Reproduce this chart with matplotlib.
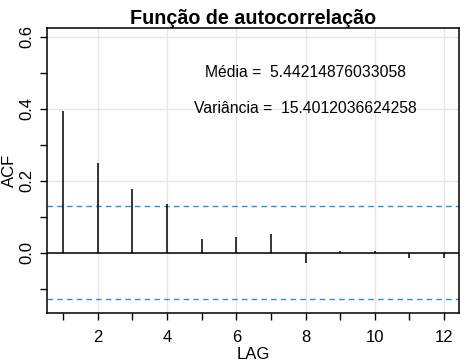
import matplotlib
matplotlib.use("Agg")
import matplotlib.pyplot as plt
import numpy as np

plt.rcParams['font.family'] = ['Liberation Sans', 'DejaVu Sans']

lags = [1, 2, 3, 4, 5, 6, 7, 8, 9, 10, 11, 12]
acf = [0.394, 0.25, 0.178, 0.136, 0.039, 0.044, 0.053, -0.027, 0.005, 0.005, -0.013, -0.013]
conf = 0.129
media = "5.44214876033058"
variancia = "15.4012036624258"
title = "Função de autocorrelação"

fig = plt.figure(figsize=(4.69, 3.62), dpi=100)
ax = fig.add_axes([47/469, 1-313/362, (459-47)/469, (313-28)/362])

ax.set_xlim(0.537, 12.43)
ax.set_ylim(-0.167, 0.625)

for x in [2, 4, 6, 8, 10, 12]:
    ax.axvline(x, color='#e6e6e6', lw=1, zorder=0)
for y in [0.0, 0.2, 0.4, 0.6]:
    ax.axhline(y, color='#e6e6e6', lw=1, zorder=0)

ax.vlines(lags, 0, acf, color='black', lw=1.1, zorder=3)
ax.axhline(0, color='black', lw=1.1, zorder=3)
ax.axhline(conf, color='#2a8fd8', lw=1, ls=(0, (4, 3)), zorder=2)
ax.axhline(-conf, color='#2a8fd8', lw=1, ls=(0, (4, 3)), zorder=2)

ax.text(8, 0.5, "Média =  " + media, ha='center', va='center', fontsize=11.3)
ax.text(8, 0.4, "Variância =  " + variancia, ha='center', va='center', fontsize=11.3)

ax.set_xticks(lags)
ax.set_xticklabels([str(l) if l % 2 == 0 else "" for l in lags], fontsize=12)
yt = [-0.1, 0.0, 0.1, 0.2, 0.3, 0.4, 0.5, 0.6]
ax.set_yticks(yt)
ax.set_yticklabels(["", "0.0", "", "0.2", "", "0.4", "", "0.6"], fontsize=12,
                   rotation=90, va='center')
ax.tick_params(axis='x', direction='out', length=5, width=1, color='black', pad=7)
ax.tick_params(axis='y', direction='out', length=5, width=1, color='black', pad=4)

for s in ax.spines.values():
    s.set_linewidth(1.1)
    s.set_color('black')

ax.set_xlabel("LAG", fontsize=12, labelpad=2)
ax.set_ylabel("ACF", fontsize=12, labelpad=2)
ax.set_title(title, fontsize=14.2, fontweight='bold', pad=3)

fig.savefig("out.png", dpi=100)
